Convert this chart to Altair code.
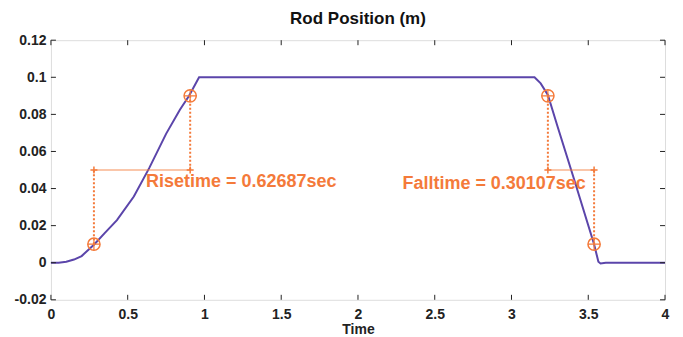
import altair as alt
import pandas as pd

# Rod position curve
t_vals = [0, 0.05, 0.1, 0.15, 0.2, 0.28, 0.35, 0.43, 0.54, 0.64, 0.75, 0.84, 0.9, 0.965,
          3.15, 3.19, 3.237, 3.3, 3.4, 3.538, 3.566, 3.58, 3.614, 4.0]
y_vals = [0, 0, 0.0005, 0.0017, 0.0036, 0.0097, 0.016, 0.023, 0.0357, 0.051, 0.0695, 0.0825, 0.09, 0.1,
          0.1, 0.0967, 0.0905, 0.0735, 0.047, 0.01, 0.0005, -0.0004, 0, 0]

# Rise / fall measurement points
mark_t = [0.28, 0.907, 3.237, 3.538]
mark_y = [0.01, 0.09, 0.09, 0.01]
mid_level = 0.05
pair = ["rise", "rise", "fall", "fall"]

label_text = ["Risetime = 0.62687sec", "Falltime = 0.30107sec"]
label_t = [0.62, 2.29]
label_y = [0.0437, 0.0422]

x_ticks = [0, 0.5, 1, 1.5, 2, 2.5, 3, 3.5, 4]
y_ticks = [-0.02, 0, 0.02, 0.04, 0.06, 0.08, 0.1, 0.12]

PURPLE = "#5b45aa"
ORANGE = "#f47a3a"
FONT = "Liberation Sans"

W, H = 615, 260

curve = pd.DataFrame({"t": t_vals, "y": y_vals})
marks = pd.DataFrame({"t": mark_t, "y": mark_y, "mid": [mid_level] * 4, "pair": pair})
labels = pd.DataFrame({"t": label_t, "y": label_y, "text": label_text})
xt = pd.DataFrame({"v": x_ticks})
yt = pd.DataFrame({"v": y_ticks})

xscale = alt.Scale(domain=[0, 4], nice=False, zero=False)
yscale = alt.Scale(domain=[-0.02, 0.12], nice=False, zero=False)

common = dict(ticks=False, domain=False, grid=False,
              labelOverlap=False, labelFlush=False, labelBound=False,
              labelFont=FONT, labelFontWeight="bold", labelFontSize=14, labelColor="#222",
              titleFont=FONT, titleFontWeight="bold", titleFontSize=14, titleColor="#222")
xaxis = alt.Axis(values=x_ticks, title="Time", labelPadding=8, titlePadding=1,
                 labelExpr="replace(format(datum.value, '.1~f'), '\u2212', '-')", **common)
yaxis = alt.Axis(values=y_ticks, title=None, labelPadding=5,
                 labelExpr="replace(format(datum.value, '.2~f'), '\u2212', '-')", **common)


def X(field):
    return alt.X(field, type="quantitative", scale=xscale, axis=xaxis)


def Y(field):
    return alt.Y(field, type="quantitative", scale=yscale, axis=yaxis)


line = alt.Chart(curve).mark_line(color=PURPLE, strokeWidth=2).encode(
    x=X("t"), y=Y("y"),
)

vdots = alt.Chart(marks).mark_rule(color=ORANGE, strokeWidth=2, strokeDash=[2, 2]).encode(
    x=X("t"), y=Y("y"), y2="mid:Q"
)

hline = alt.Chart(marks).mark_line(color=ORANGE, strokeWidth=1.2, opacity=0.85).encode(
    x=X("t"), y=Y("mid"), detail="pair:N"
)

plus_path = "M-1,0L1,0M0,-1L0,1"
end_plus = alt.Chart(marks).mark_point(shape=plus_path, filled=False, color=ORANGE,
                                       size=49, strokeWidth=1.5, opacity=1).encode(
    x=X("t"), y=Y("mid")
)
circ = alt.Chart(marks).mark_point(shape="circle", filled=False, color=ORANGE,
                                   size=150, strokeWidth=1.5, opacity=1).encode(
    x=X("t"), y=Y("y")
)
circ_plus = alt.Chart(marks).mark_point(shape=plus_path, filled=False, color=ORANGE,
                                        size=150, strokeWidth=1.2, opacity=1).encode(
    x=X("t"), y=Y("y")
)

txt = alt.Chart(labels).mark_text(align="left", baseline="middle", color=ORANGE,
                                  font=FONT, fontWeight="bold", fontSize=18).encode(
    x=X("t"), y=Y("y"), text="text:N"
)

tick_len = 5
xt_bot = alt.Chart(xt).mark_rule(color="#222", strokeWidth=1).encode(
    x=X("v"), y=alt.value(H), y2=alt.value(H - tick_len))
xt_top = alt.Chart(xt).mark_rule(color="#222", strokeWidth=1).encode(
    x=X("v"), y=alt.value(0), y2=alt.value(tick_len))
yt_left = alt.Chart(yt).mark_rule(color="#222", strokeWidth=1).encode(
    y=Y("v"), x=alt.value(0), x2=alt.value(tick_len))
yt_right = alt.Chart(yt).mark_rule(color="#222", strokeWidth=1).encode(
    y=Y("v"), x=alt.value(W), x2=alt.value(W - tick_len))

chart = alt.layer(
    line, hline, vdots, end_plus, circ, circ_plus, txt,
    xt_bot, xt_top, yt_left, yt_right,
).properties(
    width=W, height=H,
    title=alt.TitleParams("Rod Position (m)", font=FONT, fontWeight="bold", fontSize=17,
                          color="#111", offset=5),
    autosize=alt.AutoSizeParams(type="none"),
    padding={"left": 43, "top": 32, "right": 10, "bottom": 40},
).configure_view(
    stroke="#222", strokeWidth=1.2
).configure(background="white")

chart.save("out.html", embed_options={"renderer": "svg", "actions": False})
